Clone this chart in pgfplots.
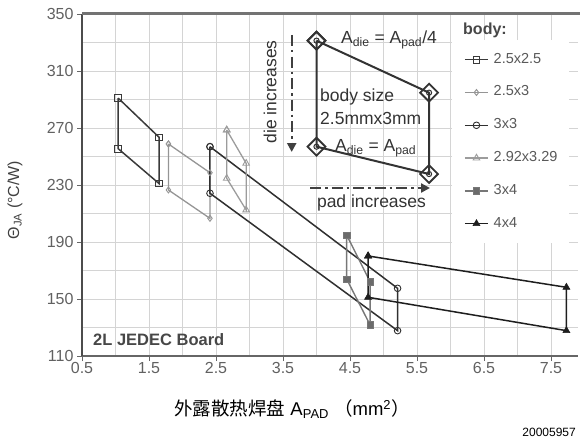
\documentclass[border=0pt]{standalone}
\usepackage{pgfplots}
\pgfplotsset{compat=1.18}
\usepackage{fontspec}
\setmainfont{Liberation Sans}
\newfontfamily\cjk{Noto Sans CJK SC}
\usetikzlibrary{arrows.meta}
\definecolor{ca}{HTML}{3A3A3A}
\definecolor{cb}{HTML}{959595}
\definecolor{cc}{HTML}{303030}
\definecolor{cd}{HTML}{9C9C9C}
\definecolor{ce}{HTML}{777777}
\definecolor{cf}{HTML}{1E1E1E}
\begin{document}
\begin{tikzpicture}
\begin{axis}[
  at={(82pt,-356pt)}, anchor=south west,
  scale only axis, width=495.8pt, height=342pt,
  xmin=0.5, xmax=7.9, ymin=110, ymax=350,
  xtick={0.5,1.5,2.5,3.5,4.5,5.5,6.5,7.5},
  minor xtick={1,2,3,4,5,6,7},
  ytick={110,150,190,230,270,310,350},
  minor ytick={130,170,210,250,290,330},
  grid=both,
  major grid style={draw=black!17, line width=0.7pt},
  minor grid style={draw=black!17, line width=0.7pt},
  axis x line*=bottom, axis y line*=left,
  x axis line style={draw=black!60, line width=1.3pt},
  y axis line style={draw=black!70, line width=1.8pt},
  tick align=outside, major tick length=5pt, minor tick length=0pt,
  major tick style={draw=black!60, line width=0.9pt},
  minor tick style={draw=none},
  ticklabel style={font=\fontsize{16}{16}\selectfont, text=black!62},
  /pgf/number format/assume math mode=true,
  xticklabel style={inner ysep=1pt, /pgf/number format/.cd, fixed, fixed zerofill, precision=1},
  legend cell align=left,
  legend image code/.code={\draw[mark repeat=2,mark phase=2] plot coordinates {(0pt,0pt) (11.5pt,0pt) (23pt,0pt)};},
  legend style={at={(rel axis cs:0.7463,0.924)}, anchor=north west,
    draw=none, fill=white, inner xsep=12pt, inner ysep=13pt, row sep=19.8pt,
    font=\fontsize{14.5}{14.5}\selectfont, text=black!65,
    nodes={inner sep=0pt, text height=10pt, text depth=3pt},
    /tikz/every odd column/.append style={column sep=5pt}},
]
\addplot[ca, line width=1.5pt, mark=square, mark size=3.3pt, mark options={solid, fill=white, line width=0.9pt}]
  coordinates {(1.04,291) (1.65,263.5) (1.65,231) (1.04,255.5) (1.04,291)};
\addlegendentry{2.5x2.5}
\addplot[cb, line width=1.3pt, mark=diamond, mark size=3pt, mark options={solid, fill=white, line width=0.9pt}]
  coordinates {(1.79,258.8) (2.41,238.6) (2.41,206.6) (1.79,226.5) (1.79,258.8)};
\addlegendentry{2.5x3}
\addplot[cc, line width=1.5pt, mark=o, mark size=3.3pt, mark options={solid, fill=white, line width=0.9pt}]
  coordinates {(2.41,256.9) (5.21,157.5) (5.21,127.8) (2.41,224.2) (2.41,256.9)};
\addlegendentry{3x3}
\addplot[cd, line width=1.3pt, mark=triangle, mark size=3.8pt, mark options={solid, fill=white, line width=0.9pt}]
  coordinates {(2.66,268.6) (2.95,245.2) (2.95,212.5) (2.66,234.7) (2.66,268.6)};
\addlegendentry{2.92x3.29}
\addplot[ce, line width=1.4pt, mark=square*, mark size=3.2pt, mark options={solid, fill=ce!90!black, line width=0.6pt}]
  coordinates {(4.45,194.9) (4.80,162.1) (4.80,131.8) (4.45,164) (4.45,194.9)};
\addlegendentry{3x4}
\addplot[cf, line width=1.5pt, mark=triangle*, mark size=4pt, mark options={solid, fill=cf, line width=0.6pt}]
  coordinates {(4.77,180.2) (7.73,158.2) (7.73,127.8) (4.77,151.2) (4.77,180.2)};
\addlegendentry{4x4}
% explanatory diagram
\addplot[forget plot, draw=black!80, line width=2pt, mark=square, mark size=6.3pt,
  mark options={solid, rotate=45, fill=white, line width=1.8pt}]
  coordinates {(4.0,331.3) (5.68,294.8) (5.68,237.7) (4.0,256.9) (4.0,331.3)};
\addplot[forget plot, only marks, mark=o, mark size=2.6pt, mark options={draw=black!80, line width=1pt}]
  coordinates {(4.0,331.3) (5.68,294.8) (5.68,237.7) (4.0,256.9)};
\end{axis}
% top border
\draw[black!55, line width=2.5pt] (82pt,-13.5pt) -- (580pt,-13.5pt);
% annotations
\begin{scope}[font=\fontsize{17.5}{17.5}\selectfont, text=black!80]
\node[anchor=west, inner sep=0pt] at (341pt,-40pt) {A\textsubscript{die} = A\textsubscript{pad}/4};
\node[anchor=west, inner sep=0pt] at (320pt,-97pt) {body size};
\node[anchor=west, inner sep=0pt] at (320pt,-118pt) {2.5mmx3mm};
\node[anchor=west, inner sep=0pt] at (335pt,-148pt) {A\textsubscript{die} = A\textsubscript{pad}};
\node[rotate=90, inner sep=0pt] at (270pt,-92pt) {die increases};
\node[inner sep=0pt] at (371.5pt,-203pt) {pad increases};
\end{scope}
\draw[black!75, line width=2.2pt, dash pattern=on 11pt off 4pt on 2.5pt off 4pt, -{Triangle[length=9pt,width=9pt]}]
  (291.7pt,-35pt) -- (291.7pt,-152pt);
\draw[black!75, line width=2.2pt, dash pattern=on 11pt off 4pt on 2.5pt off 4pt, -{Triangle[length=9pt,width=9pt]}]
  (310pt,-188pt) -- (430pt,-188pt);
\node[anchor=west, inner sep=0pt, font=\bfseries\fontsize{16}{16}\selectfont, text=black!72] at (463pt,-30pt) {body:};
\node[anchor=west, inner sep=0pt, font=\bfseries\fontsize{16.5}{16.5}\selectfont, text=black!72] at (93pt,-340pt) {2L JEDEC Board};
% axis titles
\node[rotate=90, font=\fontsize{16}{16}\selectfont, text=black!75] at (15pt,-200pt) {Θ\textsubscript{JA} (°C/W)};
\node[font=\fontsize{18.5}{18.5}\selectfont] at (292pt,-409pt) {{\cjk 外露散热焊盘} A\textsubscript{PAD} {\cjk （}mm\textsuperscript{2}{\cjk ）}};
\node[anchor=east, inner sep=0pt, font=\fontsize{12}{12}\selectfont] at (576pt,-432pt) {20005957};
\pgfresetboundingbox
\path[use as bounding box] (0pt,0pt) rectangle (580pt,-444pt);
\end{tikzpicture}
\end{document}
